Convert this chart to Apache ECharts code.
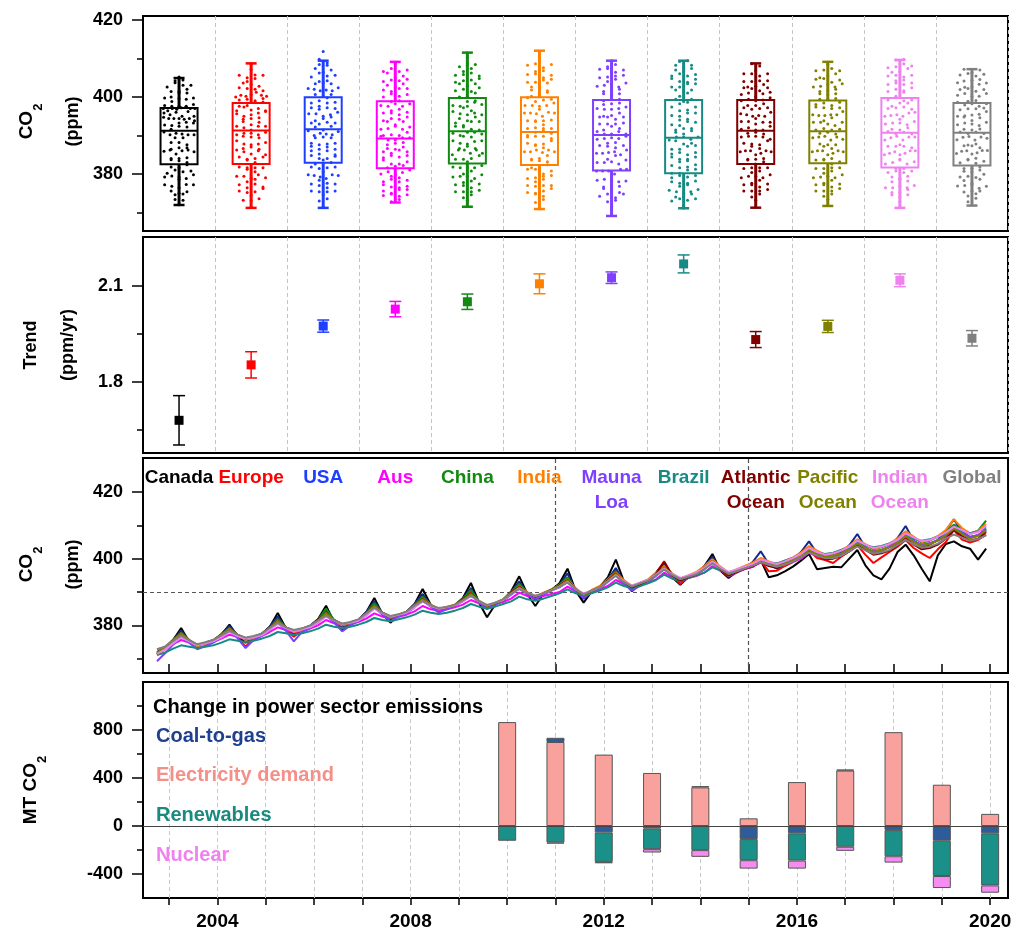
<!DOCTYPE html>
<html><head><meta charset="utf-8">
<script src="https://cdn.jsdelivr.net/npm/echarts@6/dist/echarts.min.js"></script>
<style>html,body{margin:0;padding:0;background:#fff}#c{width:1011px;height:935px}</style>
</head><body><div id="c"></div>
<script>
const FONT = '"Liberation Sans", Arial, sans-serif';
const categories = ['Canada','Europe','USA','Aus','China','India','Mauna Loa','Brazil','Atlantic Ocean','Pacific Ocean','Indian Ocean','Global'];
const colors = ['#000000','#FF0000','#1F3FFF','#FF00FF','#108A10','#FF8000','#7F3FFF','#178A84','#800000','#808000','#EE82EE','#808080'];
const lineColors = ['#000000','#FF0000','#13288F','#FF00FF','#108A10','#FF8000','#7F3FFF','#178A84','#800000','#808000','#EE82EE','#808080'];

// Panel 1: box statistics (ppm)
const boxMin = [371.95,371.2,371.2,372.6,371.5,370.9,369.1,371.1,371.25,371.7,371.2,371.8];
const boxQ1  = [382.5,382.6,382.9,381.5,382.7,382.3,380.9,380.2,382.6,382.8,381.7,382.2];
const boxMed = [391.2,391.3,391.6,389.2,391.1,390.9,390.1,389.4,391.2,391.1,390.7,390.7];
const boxQ3  = [397.1,398.4,399.9,398.9,399.7,399.9,399.2,399.2,399.2,399.1,399.7,398.4];
const boxMax = [404.9,408.7,409.4,409.1,411.5,412.0,409.4,409.4,408.7,409.1,409.6,407.2];

// Panel 2: trend (ppm/yr) and error
const trendVal = [1.680,1.853,1.974,2.027,2.050,2.106,2.125,2.168,1.932,1.973,2.117,1.936];
const trendErr = [0.077,0.041,0.019,0.024,0.024,0.031,0.018,0.028,0.025,0.019,0.020,0.024];

// Panel 3: bimonthly CO2 (ppm) from Oct 2002 to Dec 2019
const seriesStart = 2002.75, seriesStep = 1/6;
const canada = [372.0,373.4,
375.6,379.2,375.0,373.2,374.6,375.4, 377.2,380.2,376.8,374.8,376.4,377.3, 379.5,383.7,379.2,377.2,378.8,379.8,
381.8,385.9,381.0,378.6,380.6,381.6, 384.0,388.2,383.4,380.8,383.0,384.0, 386.4,390.9,386.2,384.2,385.2,386.0,
388.2,392.7,386.8,382.4,386.2,387.6, 390.2,394.7,389.4,385.8,389.4,390.6, 392.6,397.0,390.4,386.8,390.2,391.6,
394.4,399.7,393.2,390.2,392.4,393.4, 395.8,398.8,394.4,392.2,394.4,395.4, 397.8,401.4,396.4,394.2,396.0,397.0,
397.6,399.6,394.4,395.0,396.2,397.6, 399.4,401.4,396.8,397.2,397.6,397.4, 400.0,402.6,398.0,395.0,393.8,397.0,
402.0,404.2,401.0,397.0,393.2,401.0, 404.4,405.2,403.7,403.0,399.7,403.0];
const europe = [371.4,373.2,
375.6,378.0,375.2,373.1,374.4,375.4, 377.2,379.4,376.4,373.6,376.2,377.4, 379.4,381.8,378.8,376.6,378.6,379.8,
381.6,384.4,381.2,379.0,380.6,381.6, 383.8,386.6,383.6,381.6,383.0,384.0, 386.2,388.6,385.8,384.4,385.2,386.0,
387.8,390.2,387.0,385.0,386.4,387.6, 389.8,392.4,389.6,387.8,389.4,390.6, 392.0,394.2,390.6,388.2,390.2,391.4,
393.6,396.4,392.8,390.8,392.4,393.4, 395.6,399.2,395.0,392.4,394.4,395.4, 397.4,400.0,396.6,394.6,395.8,397.0,
397.6,399.4,396.2,396.4,397.8,399.0, 400.4,402.4,400.2,399.6,398.7,400.6, 402.2,404.0,401.2,398.7,400.4,402.0,
403.6,405.6,403.2,401.6,400.2,402.8, 405.0,408.6,405.7,404.8,405.6,407.2];
const usa = [371.4,373.0,
375.6,378.4,375.4,373.6,374.6,375.4, 377.4,379.8,377.0,375.6,376.4,377.4, 379.6,382.6,379.2,377.6,378.8,379.8,
381.8,384.8,381.4,379.6,380.6,381.6, 384.0,387.2,383.6,381.8,383.0,384.0, 386.4,389.4,386.0,384.6,385.2,386.0,
388.0,391.2,387.0,385.0,386.4,387.6, 390.0,393.2,389.6,387.8,389.4,390.6, 392.2,395.6,390.4,388.0,390.2,391.4,
393.8,397.2,393.0,391.0,392.4,393.4, 395.6,398.4,395.0,393.2,394.4,395.4, 397.6,400.6,396.8,394.8,396.0,397.2,
399.0,402.2,398.4,397.0,398.6,399.8, 402.0,405.2,401.6,400.2,400.6,401.8, 404.0,407.4,403.4,401.6,402.4,403.6,
406.2,409.8,405.4,403.4,404.2,405.6, 408.4,411.8,408.2,406.4,407.0,408.8];
const aus = [372.8,373.4,
374.4,375.6,374.8,374.2,374.6,375.0, 376.0,377.2,376.6,376.0,376.4,376.8, 378.0,379.4,378.6,378.0,378.4,379.0,
380.0,381.6,380.6,380.0,380.4,381.0, 382.0,383.6,382.6,382.2,382.6,383.2, 384.2,385.8,384.8,384.4,384.8,385.4,
386.2,387.6,386.6,385.8,386.4,387.0, 388.0,389.8,388.8,388.2,388.8,389.4, 390.0,391.6,390.2,389.4,390.0,390.8,
391.8,393.6,392.4,391.6,392.2,392.8, 393.8,395.8,394.4,393.6,394.2,394.8, 395.8,397.8,396.4,395.4,396.0,396.8,
397.6,398.8,398.2,397.6,398.2,399.0, 400.0,401.8,400.8,400.2,400.6,401.4, 402.2,404.0,403.0,402.2,402.6,403.4,
404.4,406.2,405.0,404.2,404.6,405.4, 406.6,408.6,407.4,406.6,407.0,409.0];
const china = [371.6,373.2,
375.4,377.8,375.4,373.8,374.6,375.4, 377.2,379.2,377.0,375.8,376.4,377.4, 379.4,381.8,379.4,378.2,378.8,379.8,
381.6,385.0,381.6,380.0,380.8,381.6, 383.8,386.6,383.8,382.2,383.2,384.0, 386.2,388.6,386.2,384.8,385.4,386.2,
388.0,390.6,387.2,385.4,386.6,387.8, 390.0,392.4,389.8,388.4,389.6,390.8, 392.2,394.4,390.8,388.6,390.4,391.6,
393.8,396.2,393.2,391.4,392.6,393.6, 395.6,397.8,395.4,393.6,394.8,395.8, 397.6,399.8,397.2,395.4,396.4,397.6,
398.6,400.0,398.8,398.0,399.0,400.2, 401.6,403.4,402.0,401.0,401.4,402.4, 403.8,405.6,404.2,402.8,403.4,404.4,
405.8,407.8,406.2,404.8,405.4,406.6, 408.2,410.2,408.8,407.4,408.4,411.4];
const india = [371.0,372.6,
374.8,377.0,375.2,373.4,374.2,375.0, 376.8,378.8,377.0,375.6,376.2,377.0, 379.0,381.2,379.4,378.0,378.6,379.6,
381.2,383.6,381.6,380.0,380.8,381.6, 383.4,385.8,383.8,382.4,383.2,384.0, 385.8,388.0,386.2,384.8,385.6,386.2,
387.6,389.6,387.4,385.8,386.8,387.8, 389.8,391.8,390.0,388.6,389.8,390.8, 392.0,393.8,391.2,389.2,390.6,391.8,
393.8,395.8,393.6,391.8,392.8,393.8, 395.8,397.8,395.6,394.0,395.0,396.0, 397.8,399.8,397.6,395.8,396.8,397.8,
398.8,400.2,399.2,398.4,399.4,400.4, 401.8,403.8,402.4,401.2,401.6,402.6, 403.8,405.8,404.4,403.0,403.6,404.6,
406.0,408.2,406.6,405.0,405.6,406.8, 408.6,411.8,409.2,407.6,408.4,410.4];
const maunaLoa = [369.2,371.6,
374.2,376.6,374.8,372.8,373.8,374.8, 376.4,378.4,376.2,373.2,375.6,376.8, 378.6,380.8,378.4,375.2,378.0,379.2,
380.8,383.0,380.8,378.2,380.0,381.2, 383.0,385.4,383.2,381.2,382.6,383.6, 385.4,387.4,385.6,383.8,384.8,385.8,
387.2,389.0,386.8,385.0,386.2,387.4, 389.2,391.0,389.4,388.0,389.2,390.4, 391.4,393.0,390.4,388.2,389.8,391.0,
393.0,395.0,392.4,390.4,391.8,393.0, 394.8,397.0,394.8,393.2,394.2,395.2, 396.8,399.0,396.8,394.8,395.8,397.0,
398.0,399.4,398.2,397.4,398.4,399.4, 400.8,402.8,401.4,400.4,400.8,401.6, 403.0,405.0,403.4,402.0,402.6,403.6,
405.2,407.2,405.4,404.0,404.6,405.6, 407.4,409.4,407.8,406.4,407.0,408.4];
const brazil = [371.2,371.8,
373.0,374.0,373.6,373.2,373.6,374.0, 374.8,375.8,375.4,375.0,375.4,376.0, 376.8,378.0,377.6,377.2,377.6,378.2,
379.0,380.2,379.6,379.2,379.6,380.2, 381.0,382.2,381.6,381.2,381.8,382.4, 383.2,384.4,383.8,383.4,383.8,384.4,
385.2,386.4,385.6,385.0,385.6,386.4, 387.2,388.6,387.8,387.4,388.0,388.8, 389.6,390.8,389.6,389.0,389.6,390.4,
391.4,392.8,391.8,391.2,391.8,392.6, 393.6,395.2,394.0,393.4,394.2,395.0, 395.8,397.4,396.4,395.8,396.6,397.4,
398.2,399.4,398.8,398.6,399.4,400.2, 401.0,402.6,401.8,401.4,401.8,402.6, 403.4,404.8,404.0,403.4,403.8,404.6,
405.4,407.0,406.0,405.4,405.8,406.6, 407.4,409.2,408.2,407.6,408.2,409.4];
const atlantic = [371.4,373.2,
375.6,377.6,375.6,374.0,374.8,375.6, 377.2,379.0,377.2,376.0,376.6,377.4, 379.4,381.4,379.4,378.4,379.0,379.8,
381.6,383.6,381.6,380.4,380.8,381.6, 383.8,385.8,383.8,382.6,383.2,384.0, 386.0,388.0,386.0,385.0,385.4,386.0,
387.8,389.6,387.2,385.8,386.6,387.6, 389.8,391.6,389.8,388.6,389.6,390.6, 392.0,393.6,390.8,389.0,390.4,391.4,
393.6,395.6,393.0,391.4,392.4,393.4, 395.4,399.0,395.0,393.4,394.4,395.2, 397.2,399.4,396.8,395.0,396.0,397.0,
397.8,399.0,397.8,397.2,398.2,399.2, 400.6,402.4,401.0,399.8,400.0,400.8, 402.2,404.0,402.6,401.2,401.6,402.4,
404.0,406.0,404.2,402.8,403.2,404.2, 406.0,408.6,406.8,405.4,406.0,408.0];
const pacific = [371.8,373.4,
375.6,377.6,375.6,374.2,374.8,375.6, 377.2,379.0,377.2,376.2,376.6,377.4, 379.2,381.4,379.4,378.4,379.0,379.8,
381.4,383.6,381.6,380.2,380.8,381.6, 383.6,385.8,383.8,382.6,383.2,384.0, 386.0,387.8,386.0,385.0,385.4,386.0,
387.6,389.4,387.2,385.8,386.6,387.6, 389.6,391.4,389.8,388.8,389.6,390.6, 391.8,393.4,390.8,389.0,390.4,391.4,
393.4,395.4,393.0,391.6,392.6,393.4, 395.2,397.4,395.2,393.8,394.6,395.4, 397.2,399.4,397.0,395.4,396.2,397.2,
398.0,399.4,398.4,397.8,398.6,399.6, 400.8,402.6,401.4,400.6,400.8,401.6, 402.8,404.6,403.2,402.0,402.6,403.4,
404.8,406.8,405.0,403.8,404.4,405.4, 407.0,409.0,407.4,406.0,406.8,408.4];
const indianOcean = [371.4,372.8,
374.6,376.4,375.2,374.0,374.6,375.2, 376.4,378.0,376.8,376.0,376.4,377.0, 378.6,380.4,379.2,378.2,378.8,379.4,
380.8,382.6,381.4,380.4,380.8,381.4, 383.0,385.0,383.6,382.6,383.2,383.8, 385.4,387.2,385.8,385.0,385.4,386.0,
387.2,388.8,387.2,386.0,386.8,387.6, 389.4,391.0,389.8,388.8,389.6,390.4, 391.6,393.0,390.8,389.6,390.4,391.4,
393.2,395.0,393.2,392.0,392.8,393.6, 395.2,397.0,395.4,394.2,395.0,395.8, 397.2,399.2,397.4,396.0,396.8,397.6,
398.4,399.8,399.0,398.4,399.2,400.2, 401.4,403.2,402.0,401.2,401.6,402.4, 403.6,405.4,404.2,403.2,403.6,404.4,
405.6,407.6,406.4,405.2,405.6,406.6, 407.8,409.6,408.6,407.4,408.0,409.8];
const globalCO2 = [372.8,373.7,
375.3,376.9,375.5,374.3,374.9,375.6, 377.0,378.3,377.2,376.3,376.8,377.5, 379.2,380.7,379.4,378.6,379.1,379.9,
381.4,382.9,381.5,380.5,381.0,381.8, 383.6,385.3,383.8,382.8,383.3,384.1, 385.9,387.3,386.0,385.2,385.5,386.1,
387.5,388.9,387.3,386.1,386.8,387.8, 389.5,390.9,389.7,388.8,389.6,390.5, 391.6,392.8,390.9,389.3,390.5,391.4,
393.2,394.8,393.0,391.7,392.6,393.4, 395.0,396.7,395.1,393.9,394.6,395.3, 396.9,398.6,396.9,395.5,396.2,397.1,
397.9,398.9,398.2,397.6,398.2,399.1, 400.4,401.9,400.9,400.1,400.2,400.9, 402.2,403.7,402.5,401.5,401.9,402.6,
404.1,405.7,404.3,403.3,403.6,404.5, 406.1,407.2,406.3,405.4,405.9,407.0];
const co2Series = [canada, europe, usa, aus, china, india, maunaLoa, brazil, atlantic, pacific, indianOcean, globalCO2];

// Panel 4: change in power sector emissions (MT CO2)
const barYears   = [2010,2011,2012,2013,2014,2015,2016,2017,2018,2019,2020];
const elecDemand = [866,700,595,442,322,64,366,462,782,344,101];
const coalToGas  = [null,35,-53,-20,10,-109,-61,8,-34,-123,-61];
const renewables = [-123,-137,-246,-173,-201,-176,-227,-173,-218,-294,-434];
const nuclear    = [null,-10,-12,-28,-56,-70,-67,-34,-53,-100,-61];
const barNames = ['Electricity demand','Coal-to-gas','Renewables','Nuclear'];
const barColors = ['#F9A19C','#2E5C9A','#1A9088','#F58CF2'];
const barTextColors = ['#F4908A','#1F3F8F','#1A8A80','#EE82EE'];

const allYears = [2003,2004,2005,2006,2007,2008,2009,2010,2011,2012,2013,2014,2015,2016,2017,2018,2019,2020];
const labelYears = [2004,2008,2012,2016,2020];

// ---------- build ----------
const chart = echarts.init(document.getElementById('c'), null, {renderer:'canvas'});
const times = canada.map((_, i) => seriesStart + i * seriesStep);

function swarm(vals, ci) {
  const bw = 1.25, bins = {}, pts = [];
  vals.forEach(v => { const b = Math.floor(v / bw); (bins[b] = bins[b] || []).push(v); });
  Object.keys(bins).forEach(k => {
    const arr = bins[k], n = arr.length;
    let dx = 0.11; if (n * dx > 0.5) dx = 0.5 / n;
    arr.forEach((v, j) => pts.push([ci + (j - (n - 1) / 2) * dx, v, ci]));
  });
  return pts;
}
let swarmPts = [];
co2Series.forEach((s, i) => { swarmPts = swarmPts.concat(swarm(s, i)); });

const gridBase = {left:143, right:3, show:true, borderColor:'#000', borderWidth:2, backgroundColor:'transparent', outerBoundsMode:'none', containLabel:false};
const lblStyle = {fontSize:18, fontWeight:'bold', color:'#000', fontFamily:FONT};

function yPair(gi, min, max, majors, minors) {
  return [
    {type:'value', gridIndex:gi, position:'left', min, max,
     axisLine:{show:true, onZero:false, lineStyle:{color:'#000', width:2}},
     axisTick:{show:true, customValues:majors, length:11, lineStyle:{color:'#000', width:1.5}},
     axisLabel:Object.assign({customValues:majors, margin:20, formatter:v => String(v)}, lblStyle),
     splitLine:{show:false}},
    {type:'value', gridIndex:gi, position:'left', min, max,
     axisLine:{show:false, onZero:false},
     axisTick:{show:true, customValues:minors, length:6, lineStyle:{color:'#000', width:1.5}},
     axisLabel:{show:false}, splitLine:{show:false}}
  ];
}

const catAxis = gi => ({type:'category', gridIndex:gi, data:categories, boundaryGap:true,
  axisLine:{show:false, onZero:false}, axisTick:{show:false}, axisLabel:{show:false},
  splitLine:{show:true, interval:0, lineStyle:{color:'#c4c4c4', type:[4,3], width:1}}});

const series = [];
// scatter jitter
series.push({type:'scatter', xAxisIndex:1, yAxisIndex:0, data:swarmPts, symbolSize:3, z:2, silent:true,
  itemStyle:{color:p => colors[p.value[2]], opacity:1}});
// box plots
series.push({type:'custom', xAxisIndex:0, yAxisIndex:0, z:3, silent:true,
  data:categories.map((_, i) => [i, boxMin[i], boxQ1[i], boxMed[i], boxQ3[i], boxMax[i]]),
  encode:{x:0, y:[1,2,3,4,5]},
  renderItem:(params, api) => {
    const i = api.value(0), c = colors[i];
    const x = api.coord([i, api.value(3)])[0];
    const y = v => api.coord([i, v])[1];
    const yMin = y(api.value(1)), yQ1 = y(api.value(2)), yMed = y(api.value(3)), yQ3 = y(api.value(4)), yMax = y(api.value(5));
    const hw = 18.5, cw = 5.5;
    return {type:'group', children:[
      {type:'rect', shape:{x:x-hw, y:yQ3, width:2*hw, height:yQ1-yQ3}, style:{stroke:c, fill:'rgba(0,0,0,0)', lineWidth:2}},
      {type:'line', shape:{x1:x-hw, y1:yMed, x2:x+hw, y2:yMed}, style:{stroke:c, lineWidth:2}},
      {type:'line', shape:{x1:x, y1:yQ3, x2:x, y2:yMax}, style:{stroke:c, lineWidth:3}},
      {type:'line', shape:{x1:x, y1:yQ1, x2:x, y2:yMin}, style:{stroke:c, lineWidth:3}},
      {type:'line', shape:{x1:x-cw, y1:yMax, x2:x+cw, y2:yMax}, style:{stroke:c, lineWidth:2.5}},
      {type:'line', shape:{x1:x-cw, y1:yMin, x2:x+cw, y2:yMin}, style:{stroke:c, lineWidth:2.5}}
    ]};
  }});
// trend with error bars
series.push({type:'custom', xAxisIndex:2, yAxisIndex:2, z:3, silent:true,
  data:categories.map((_, i) => [i, trendVal[i], trendErr[i]]),
  encode:{x:0, y:1},
  renderItem:(params, api) => {
    const i = api.value(0), v = api.value(1), e = api.value(2), c = colors[i];
    const p = api.coord([i, v]);
    const yt = api.coord([i, v + e])[1], yb = api.coord([i, v - e])[1];
    const cw = 6, s = 4.5;
    return {type:'group', children:[
      {type:'line', shape:{x1:p[0], y1:yt, x2:p[0], y2:yb}, style:{stroke:c, lineWidth:1.5}},
      {type:'line', shape:{x1:p[0]-cw, y1:yt, x2:p[0]+cw, y2:yt}, style:{stroke:c, lineWidth:1.5}},
      {type:'line', shape:{x1:p[0]-cw, y1:yb, x2:p[0]+cw, y2:yb}, style:{stroke:c, lineWidth:1.5}},
      {type:'rect', shape:{x:p[0]-s, y:p[1]-s, width:2*s, height:2*s}, style:{fill:c}}
    ]};
  }});
// time series
co2Series.forEach((arr, si) => {
  const s = {type:'line', xAxisIndex:3, yAxisIndex:4, data:times.map((t, i) => [t, arr[i]]),
    showSymbol:false, symbol:'none', silent:true, z:3 + si * 0.01,
    lineStyle:{width:2, color:lineColors[si]}};
  if (si === 0) {
    s.markLine = {silent:true, symbol:'none', label:{show:false}, z:2,
      lineStyle:{type:[4,3], color:'#555', width:1.2},
      data:[{xAxis:2011}, {xAxis:2015}, {yAxis:390}]};
  }
  series.push(s);
});
// year grid for panel 4 (behind bars)
series.push({type:'line', xAxisIndex:4, yAxisIndex:6, data:[[2010, 0]], symbol:'none', silent:true,
  lineStyle:{opacity:0}, z:1,
  markLine:{silent:true, symbol:'none', label:{show:false}, z:1,
    lineStyle:{type:[4,3], color:'#c8c8c8', width:1},
    data:allYears.map(y => ({xAxis:y}))}});
// stacked bars: value first so that stacking happens on the value dimension
const barData = [elecDemand, coalToGas, renewables, nuclear];
barData.forEach((arr, bi) => {
  series.push({type:'bar', name:barNames[bi], xAxisIndex:4, yAxisIndex:6, stack:'power', barWidth:18, z:10, silent:true,
    data:barYears.map((y, i) => [arr[i], y]),
    encode:{x:1, y:0},
    itemStyle:{color:barColors[bi], borderColor:'#555', borderWidth:1}});
});
// zero line
series.push({type:'line', xAxisIndex:4, yAxisIndex:6, data:[[2010, 0]], symbol:'none', silent:true,
  lineStyle:{opacity:0}, z:11,
  markLine:{silent:true, symbol:'none', label:{show:false}, z:11,
    lineStyle:{type:'solid', color:'#444', width:1},
    data:[{yAxis:0}]}});

const option = {
  animation:false,
  backgroundColor:'#fff',
  textStyle:{fontFamily:FONT},
  grid:[
    Object.assign({top:16, height:215}, gridBase),
    Object.assign({top:237, height:216}, gridBase),
    Object.assign({top:458, height:215}, gridBase),
    Object.assign({top:682, height:216}, gridBase)
  ],
  xAxis:[
    catAxis(0),
    {type:'value', gridIndex:0, min:-0.5, max:11.5, show:false, axisLine:{onZero:false}},
    catAxis(1),
    {type:'value', gridIndex:2, min:2002.46, max:2020.37,
     axisLine:{show:true, onZero:false, lineStyle:{color:'#000', width:2}},
     axisTick:{show:true, inside:true, customValues:allYears, length:9, lineStyle:{color:'#000', width:1.5}},
     axisLabel:{show:false}, splitLine:{show:false}},
    {type:'value', gridIndex:3, min:2002.46, max:2020.37,
     axisLine:{show:true, onZero:false, lineStyle:{color:'#000', width:2}},
     axisTick:{show:true, customValues:allYears, length:7, lineStyle:{color:'#000', width:1.5}},
     axisLabel:{customValues:labelYears, formatter:v => String(v), fontSize:19, fontWeight:'bold', color:'#000', margin:14, fontFamily:FONT},
     splitLine:{show:false}}
  ],
  yAxis:[].concat(
    yPair(0, 365.2, 421, [380,400,420], [370,390,410]),
    yPair(1, 1.578, 2.252, [1.8,2.1], [1.65,1.95]),
    yPair(2, 365.7, 430.2, [380,400,420], [370,390,410]),
    yPair(3, -600, 1200, [-400,0,400,800], [-200,200,600,1000])
  ),
  series
};
chart.setOption(option);

// ---------- text overlays ----------
const mctx = document.createElement('canvas').getContext('2d');
function textW(t, size) { mctx.font = 'bold ' + size + 'px ' + FONT; return mctx.measureText(t).width; }
function vtext(x, y, t, size, align) {
  return {type:'text', x, y, rotation:Math.PI/2, silent:true,
    style:{text:t, font:'bold ' + size + 'px ' + FONT, fill:'#000',
      textAlign:align || 'center', textVerticalAlign:'middle', align:align || 'center', verticalAlign:'middle'}};
}
function vsub(x, yc, main, size, subSize) {
  const wm = textW(main, size), ws = textW('2', subSize);
  const yJoin = yc + (wm + ws) / 2 - wm;
  return [vtext(x, yJoin, main, size, 'right'), vtext(x + 11, yJoin, '2', subSize, 'left')];
}
const graphics = [];
const c1 = (16 + 231) / 2 - 2, c2 = (237 + 453) / 2, c3 = (458 + 673) / 2 - 1, c4 = (682 + 898) / 2;
graphics.push(...vsub(27, c1, 'CO', 19, 13), vtext(73, c1, '(ppm)', 18));
graphics.push(vtext(31, c2, 'Trend', 18), vtext(68, c2, '(ppm/yr)', 18));
graphics.push(...vsub(27, c3, 'CO', 19, 13), vtext(73, c3, '(ppm)', 18));
graphics.push(...vsub(31, c4, 'MT CO', 19, 13));

categories.forEach((name, i) => {
  const px = chart.convertToPixel({xAxisIndex:0}, i);
  graphics.push({type:'text', x:px, y:478 - 12.5, silent:true, z:10,
    style:{text:name.replace(' ', '\n'), font:'bold 19px ' + FONT, fill:colors[i], lineHeight:25,
      textAlign:'center', textVerticalAlign:'top', align:'center', verticalAlign:'top'}});
});

graphics.push({type:'text', x:153, y:707, silent:true, z:10,
  style:{text:'Change in power sector emissions', font:'bold 20px ' + FONT, fill:'#000', textVerticalAlign:'middle', verticalAlign:'middle'}});
const legendY = [775, 736, 815, 855];
barNames.forEach((n, i) => {
  graphics.push({type:'text', x:156, y:legendY[i], silent:true, z:10,
    style:{text:n, font:'bold 20px ' + FONT, fill:barTextColors[i], textVerticalAlign:'middle', verticalAlign:'middle'}});
});
chart.setOption({graphic:graphics});
</script></body></html>
